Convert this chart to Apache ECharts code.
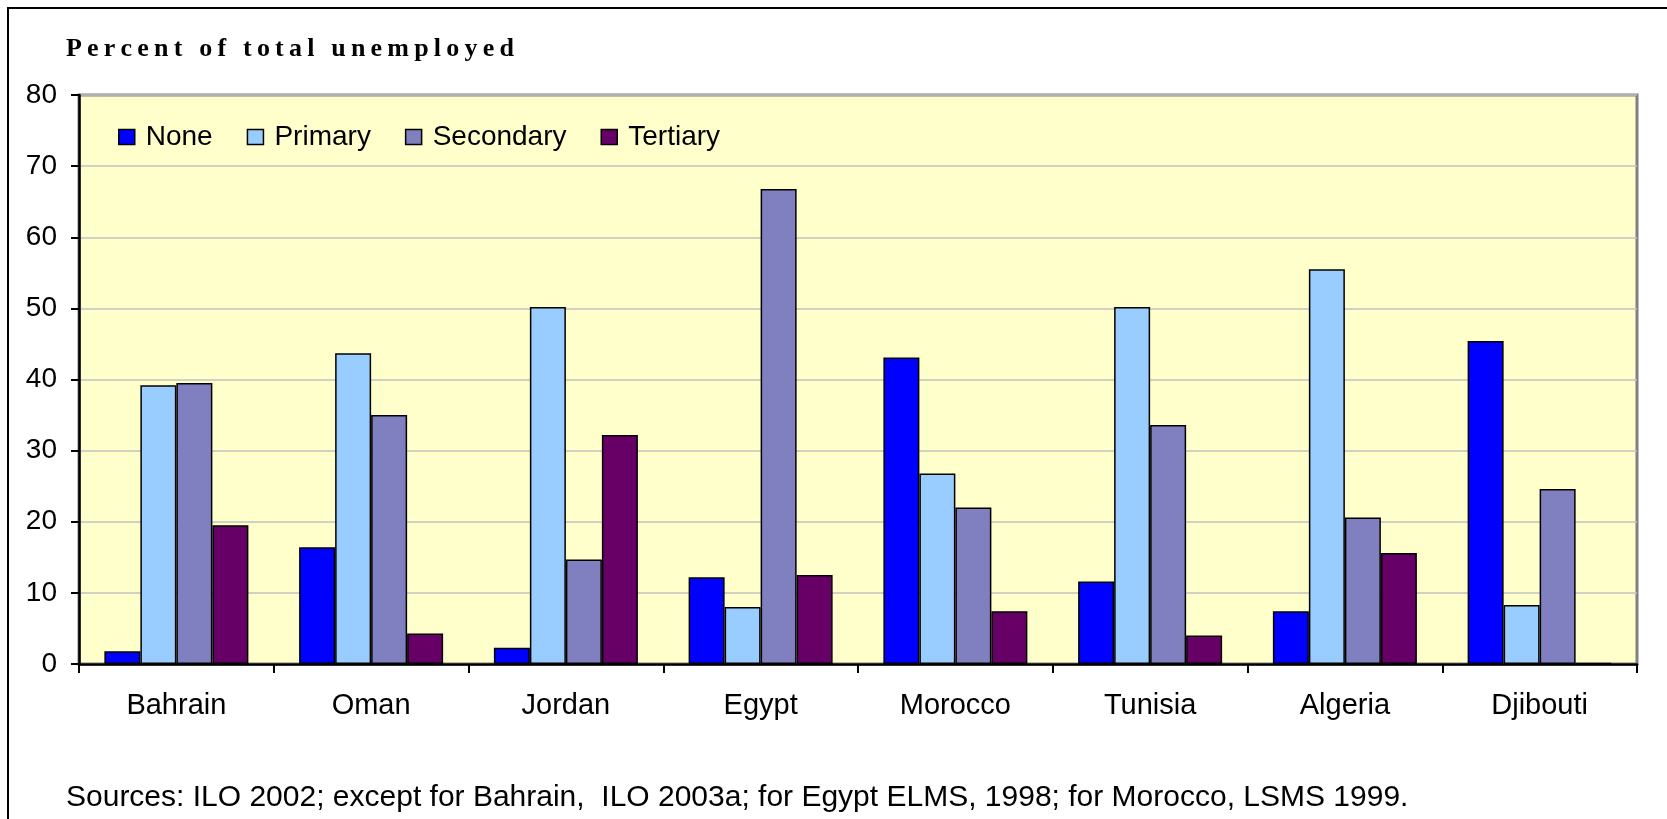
<!DOCTYPE html>
<html>
<head>
<meta charset="utf-8">
<script src="https://cdn.jsdelivr.net/npm/echarts@6/dist/echarts.min.js"></script>
<style>
  html, body { margin: 0; padding: 0; background: #fff; }
  #chart { width: 1667px; height: 819px; }
</style>
</head>
<body>
<div id="chart"></div>
<script>
const countries = ["Bahrain", "Oman", "Jordan", "Egypt", "Morocco", "Tunisia", "Algeria", "Djibouti"];
const none = [1.8, 16.4, 2.3, 12.2, 43.1, 11.6, 7.4, 45.4];
const primary = [39.2, 43.7, 50.2, 8.0, 26.8, 50.2, 55.5, 8.3];
const secondary = [39.5, 35.0, 14.7, 66.8, 22.0, 33.6, 20.6, 24.6];
const tertiary = [19.5, 4.3, 32.2, 12.5, 7.4, 4.0, 15.6, 0.1];
const yTicks = [0, 10, 20, 30, 40, 50, 60, 70, 80];

const titleText = "Percent of total unemployed";
const sourceText = "Sources: ILO 2002; except for Bahrain,  ILO 2003a; for Egypt ELMS, 1998; for Morocco, LSMS 1999.";

const sans = "Liberation Sans, Arial, sans-serif";

// spaced-out bold title, one rich token per character
const spacedTitle = titleText.split("").map((c) => "{c|" + c + "}").join("");

const makeSeries = (name, data, color) => ({
  name: name,
  type: "bar",
  data: data,
  barWidth: 36,
  barGap: "0%",
  barMinHeight: 1,
  itemStyle: { color: color, borderColor: "#000", borderWidth: 1.5 },
});

const chart = echarts.init(document.getElementById("chart"));
chart.setOption({
  animation: false,
  backgroundColor: "#fff",
  textStyle: { fontFamily: sans },
  title: [
    {
      text: spacedTitle,
      left: 66,
      top: 36,
      padding: 0,
      textStyle: {
        rich: {
          c: {
            fontFamily: "Liberation Serif, Times New Roman, serif",
            fontWeight: "bold",
            fontSize: 26,
            color: "#000",
            padding: [0, 5.2, 0, 0],
          },
        },
      },
    },
    {
      text: sourceText,
      left: 66,
      top: 783,
      padding: 0,
      textStyle: { fontFamily: sans, fontSize: 30, fontWeight: "normal", color: "#000" },
    },
  ],
  graphic: [
    {
      type: "rect",
      shape: { x: 8, y: 8, width: 1700, height: 900 },
      style: { fill: null, stroke: "#000", lineWidth: 2 },
      z: 100,
    },
  ],
  legend: {
    left: 113,
    top: 118,
    itemWidth: 16,
    itemHeight: 15,
    itemGap: 34,
    icon: "rect",
    itemStyle: { borderColor: "#000", borderWidth: 1.5 },
    textStyle: { fontFamily: sans, fontSize: 28, color: "#000", padding: [0, 0, 0, 6] },
  },
  grid: {
    left: 79,
    right: 30,
    top: 95,
    bottom: 155,
    show: true,
    backgroundColor: "#FFFFCC",
    borderColor: "#808080",
    borderWidth: 3,
    outerBoundsMode: "none",
  },
  xAxis: {
    type: "category",
    data: countries,
    axisLine: { lineStyle: { color: "#000", width: 2.5 } },
    axisTick: { show: true, length: 9, lineStyle: { color: "#000", width: 2 } },
    axisLabel: { margin: 27, fontFamily: sans, fontSize: 29, color: "#000" },
  },
  yAxis: {
    type: "value",
    min: yTicks[0],
    max: yTicks[yTicks.length - 1],
    interval: 10,
    axisLine: { show: true, lineStyle: { color: "#000", width: 2.5 } },
    axisTick: { show: true, length: 8, lineStyle: { color: "#000", width: 2 } },
    axisLabel: { margin: 22, fontFamily: sans, fontSize: 28, color: "#000" },
    splitLine: { lineStyle: { color: "#C0C0C0", width: 1.5 } },
  },
  series: [
    makeSeries("None", none, "#0000FF"),
    makeSeries("Primary", primary, "#99CCFF"),
    makeSeries("Secondary", secondary, "#8080C0"),
    makeSeries("Tertiary", tertiary, "#660066"),
  ],
});
</script>
</body>
</html>
